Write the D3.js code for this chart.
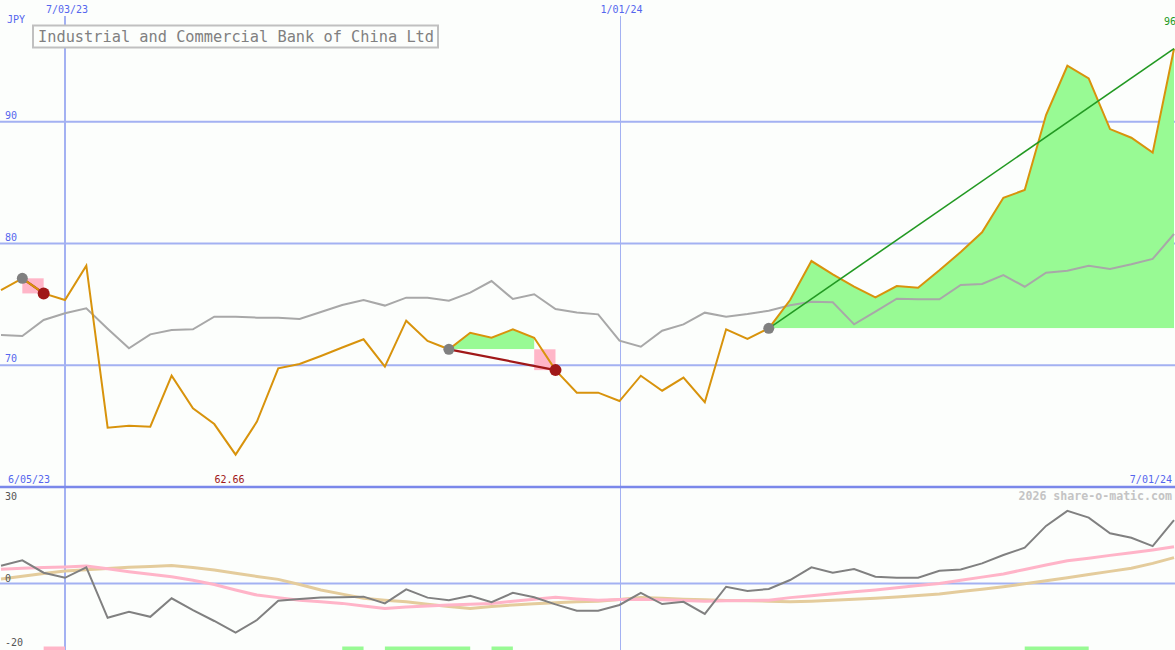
<!DOCTYPE html>
<html><head><meta charset="utf-8">
<script src="https://cdn.jsdelivr.net/npm/d3@7/dist/d3.min.js"></script>
<style>html,body{margin:0;padding:0;background:#fcfefc;overflow:hidden}svg{display:block}</style>
</head><body>
<script>
const title = "Industrial and Commercial Bank of China Ltd";
const startDate = "2023-06-12";
const weeks = 56;
const price = [76.18,77.14,75.9,75.36,78.18,64.87,65.04,64.95,69.14,66.46,65.17,62.66,65.37,69.75,70.1,70.76,71.46,72.13,69.88,73.66,72.0,71.31,72.67,72.26,72.95,72.26,69.6,67.75,67.75,67.06,69.14,67.91,68.98,66.96,72.95,72.16,73.03,75.36,78.56,77.47,76.45,75.58,76.5,76.37,77.8,79.3,80.92,83.76,84.39,90.55,94.6,93.56,89.4,88.69,87.46,96.0];
const index = [72.48,72.4,73.72,74.27,74.68,73.0,71.39,72.54,72.9,72.95,73.99,73.99,73.91,73.9,73.8,74.37,74.95,75.36,74.9,75.55,75.55,75.3,75.96,76.92,75.44,75.83,74.62,74.34,74.18,72.02,71.52,72.84,73.36,74.32,73.99,74.21,74.48,74.92,75.22,75.17,73.36,74.4,75.47,75.42,75.42,76.59,76.67,77.41,76.45,77.6,77.77,78.18,77.9,78.29,78.73,80.78];
const momentum = [5.56,7.25,3.38,1.8,5.05,-10.7,-8.8,-10.4,-4.6,-8.3,-11.7,-15.3,-11.4,-5.4,-4.8,-4.4,-4.3,-4.1,-6.2,-1.8,-4.4,-5.2,-3.8,-5.8,-2.9,-4.3,-6.5,-8.5,-8.5,-6.7,-2.9,-6.4,-5.7,-9.5,-1.0,-2.3,-1.7,1.1,5.05,3.4,4.5,2.1,1.8,1.8,4.0,4.4,6.3,8.9,11.2,18.0,22.7,20.6,15.7,14.3,11.7,19.8];
const maFast = [4.5,4.8,5.0,5.2,5.5,4.6,3.7,2.9,2.1,1.0,-0.3,-2.0,-3.6,-4.4,-5.2,-5.7,-6.2,-7.0,-7.8,-7.3,-7.0,-6.7,-6.5,-6.2,-5.5,-4.9,-4.3,-4.8,-5.2,-5.0,-4.9,-5.1,-5.3,-5.5,-5.4,-5.3,-5.2,-4.4,-3.8,-3.2,-2.6,-2.0,-1.3,-0.6,0,1.0,2.0,3.0,4.4,5.8,7.1,7.9,8.8,9.6,10.5,11.5];
const maSlow = [1.4,2.3,3.1,3.9,4.3,4.7,5.05,5.3,5.6,5.0,4.2,3.2,2.2,1.3,-0.3,-2.0,-3.3,-4.6,-5.2,-5.7,-6.5,-7.2,-7.8,-7.2,-6.7,-6.3,-6.0,-5.7,-5.5,-5.0,-4.4,-4.6,-4.9,-5.1,-5.3,-5.4,-5.5,-5.7,-5.5,-5.2,-4.9,-4.6,-4.2,-3.7,-3.3,-2.5,-1.8,-1.0,-0.1,0.9,1.8,2.8,3.8,4.75,6.3,8.1];
// trades: buy index, sell index (null = open)
const trades = [{buy:1, sell:2},{buy:21, sell:26},{buy:36, sell:null}];
// signal strips: [from index, to index, kind]
const signals = [[2,3,"sell"],[16,17,"buy"],[18,22,"buy"],[23,24,"buy"],[48,51,"buy"]];
const priceTicks = [70,80,90];
const oscTicks = [30,0,-20];
const dateTicks = ["2023-07-03","2024-01-01"];
const dateTickLabels = ["7/03/23","1/01/24"];
const cornerDates = ["6/05/23","7/01/24"];
const currency = "JPY";
const credit = "2026 share-o-matic.com";

const W = 1175, H = 650;
const parse = d3.utcParse("%Y-%m-%d");
const d0 = parse(startDate);
const dates = d3.range(weeks).map(i => d3.utcDay.offset(d0, 7*i));

const svg = d3.select("body").append("svg").attr("width", W).attr("height", H);
svg.append("rect").attr("width", W).attr("height", H).attr("fill", "#fcfefc");

const x = d3.scaleUtc().domain([dates[0], dates[weeks-1]]).range([1, 1174]);
const y = d3.scaleLinear().domain([60, 100]).range([487, 0]);
const yo = d3.scaleLinear().domain([-20.45, 30]).range([649, 487.5]);

const mono = "'DejaVu Sans Mono','Liberation Mono',monospace";
const gridC = "#a3b1f2", labC = "#5566ee";

// horizontal price gridlines
svg.selectAll(".hg").data(priceTicks).join("line")
  .attr("x1", 0).attr("x2", W).attr("y1", d => y(d)).attr("y2", d => y(d))
  .attr("stroke", gridC).attr("stroke-width", 2);
// osc zero line
svg.append("line").attr("x1",0).attr("x2",W).attr("y1",yo(0)).attr("y2",yo(0))
  .attr("stroke", gridC).attr("stroke-width", 2);
// vertical date gridlines
dateTicks.forEach((t,i) => {
  const xx = i === 0 ? Math.round(x(parse(t))) : Math.round(x(parse(t))) + 1.5;
  svg.append("line").attr("x1", xx).attr("x2", xx).attr("y1", 16).attr("y2", H)
    .attr("stroke", gridC).attr("stroke-width", i===0 ? 2 : 1)
    .attr("shape-rendering", "crispEdges");
});
// separator
svg.append("line").attr("x1",0).attr("x2",W).attr("y1",y(60)).attr("y2",y(60))
  .attr("stroke","#7a88ea").attr("stroke-width",2.5);

// trade fills
trades.forEach(t => {
  const end = t.sell === null ? weeks-1 : t.sell-1;
  const base = price[t.buy];
  const idx = d3.range(t.buy, end+1);
  const clipId = "clip"+t.buy;
  svg.append("clipPath").attr("id", clipId).append("rect")
    .attr("x", 0).attr("y", 0).attr("width", W).attr("height", y(base));
  if (idx.length > 1) {
    svg.append("path").datum(idx)
      .attr("d", d3.area().x(i => x(dates[i])).y0(y(base)).y1(i => y(price[i]))(idx))
      .attr("fill", "#98fa94").attr("clip-path", `url(#${clipId})`);
  }
  if (t.sell !== null) {
    const s = t.sell;
    const x1 = x(dates[s-1]), x2 = x(dates[s]);
    const ya = y(base), yb = y(price[s]);
    svg.append("rect").attr("x", x1).attr("width", x2-x1)
      .attr("y", Math.min(ya,yb)).attr("height", Math.abs(yb-ya)).attr("fill", "#ffb6c8");
  }
});

const line = (arr, sc) => d3.line().x((d,i) => x(dates[i])).y(d => sc(d))(arr);

// index line
svg.append("path").attr("d", line(index, y)).attr("fill","none").attr("stroke","#a8a8a8").attr("stroke-width",2);

// closed trade lines (under price)
trades.filter(t => t.sell !== null).forEach(t => {
  svg.append("line").attr("x1", x(dates[t.buy])).attr("y1", y(price[t.buy]))
    .attr("x2", x(dates[t.sell])).attr("y2", y(price[t.sell]))
    .attr("stroke", "#a01818").attr("stroke-width", 2.2);
});
// price
svg.append("path").attr("d", line(price, y)).attr("fill","none").attr("stroke","#d8930c").attr("stroke-width",2);
// open trade line
trades.filter(t => t.sell === null).forEach(t => {
  svg.append("line").attr("x1", x(dates[t.buy])).attr("y1", y(price[t.buy]))
    .attr("x2", x(dates[weeks-1])).attr("y2", y(price[weeks-1]))
    .attr("stroke", "#229922").attr("stroke-width", 1.6);
});
trades.forEach(t => {
  svg.append("circle").attr("cx", x(dates[t.buy])).attr("cy", y(price[t.buy])).attr("r", 5.5).attr("fill","#808080");
  if (t.sell !== null)
    svg.append("circle").attr("cx", x(dates[t.sell])).attr("cy", y(price[t.sell])).attr("r", 6).attr("fill","#a01818");
});

// oscillator
svg.append("path").attr("d", line(maSlow, yo)).attr("fill","none").attr("stroke","#e4cc9c").attr("stroke-width",3);
svg.append("path").attr("d", line(maFast, yo)).attr("fill","none").attr("stroke","#ffb4c8").attr("stroke-width",3);
svg.append("path").attr("d", line(momentum, yo)).attr("fill","none").attr("stroke","#808080").attr("stroke-width",2);

// signal strips
svg.selectAll(".sig").data(signals).join("rect")
  .attr("x", d => x(dates[d[0]])).attr("width", d => x(dates[d[1]]) - x(dates[d[0]]))
  .attr("y", 646.5).attr("height", 4)
  .attr("fill", d => d[2] === "buy" ? "#98fa94" : "#ffb6c8");

// texts
const txt = (s, xx, yy, col, anchor="start", size=10, weight="normal") =>
  svg.append("text").attr("x", xx).attr("y", yy).attr("fill", col).attr("text-anchor", anchor)
    .attr("font-family", mono).attr("font-size", size).attr("font-weight", weight).text(s);

txt(currency, 7, 23, labC);
priceTicks.forEach(v => txt(String(v), 5, y(v)-3, labC));
dateTicks.forEach((t,i) => txt(dateTickLabels[i], x(parse(t))+2, 13, labC, "middle"));
txt(cornerDates[0], 8, 483, labC);
txt(cornerDates[1], 1172, 483, labC, "end");
const minI = d3.minIndex(price);
txt(price[minI].toFixed(2), x(dates[minI])-6, 483, "#a01818", "middle");
txt(String(Math.round(price[weeks-1])), 1164, 25, "#229922");
txt(oscTicks[0], 5, 500, "#555");
txt(oscTicks[1], 5, 582, "#555");
txt(oscTicks[2], 5, 646, "#555");
txt(credit, 1172, 500, "#c4c4c4", "end", 11.6, "bold");

// title box
svg.append("rect").attr("x", 33).attr("y", 25.5).attr("width", 405).attr("height", 22)
  .attr("fill", "#fcfefc").attr("stroke", "#c0c0c0").attr("stroke-width", 2);
txt(title, 38, 42, "#808080", "start", 15.3);
</script>
</body></html>
